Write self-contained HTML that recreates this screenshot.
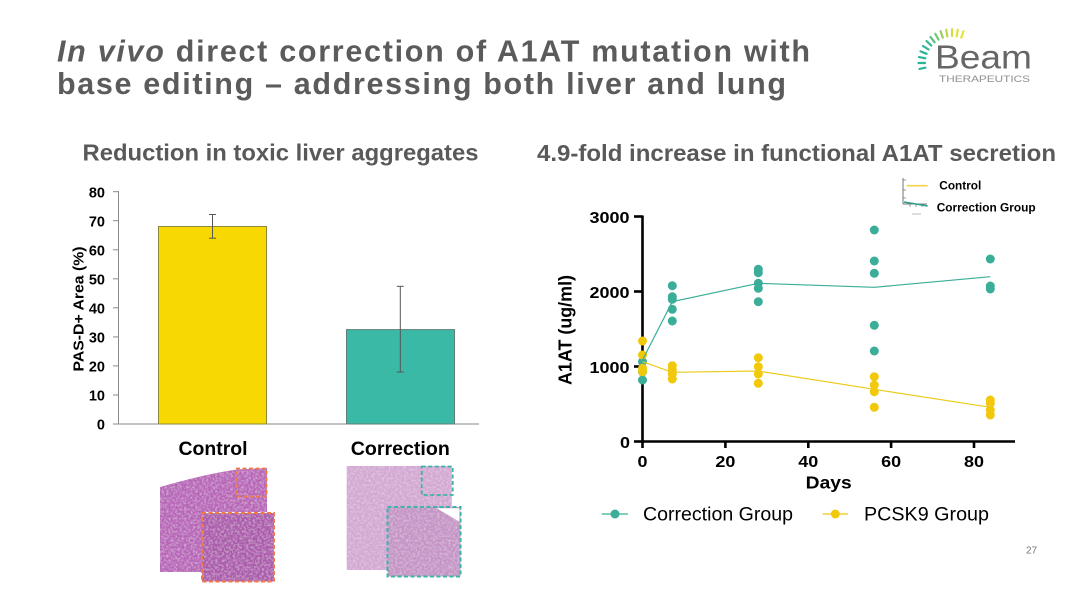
<!DOCTYPE html>
<html>
<head>
<meta charset="utf-8">
<style>
  html,body{margin:0;padding:0;background:#fff;}
  body{width:1088px;height:612px;overflow:hidden;position:relative;}
  svg{position:absolute;left:0;top:0;}
  text{font-family:"Liberation Sans", Arial, sans-serif;}
</style>
</head>
<body>
<svg width="1088" height="612" viewBox="0 0 1088 612" xmlns="http://www.w3.org/2000/svg">
  <rect width="1088" height="612" fill="#fff"/>

  <!-- Title -->
  <text x="57" y="61.5" font-size="30.5" font-weight="bold" fill="#5b5b5b" textLength="753" lengthAdjust="spacing"><tspan font-style="italic">In vivo</tspan> direct correction of A1AT mutation with</text>
  <text x="57" y="94" font-size="30.5" font-weight="bold" fill="#5b5b5b" textLength="729" lengthAdjust="spacing">base editing – addressing both liver and lung</text>

  <!-- Logo -->
  <g stroke-width="2.2" stroke-linecap="round">
    <line x1="925.4" y1="67.7" x2="919.5" y2="68.9" stroke="#2bb39a"/>
    <line x1="925" y1="63" x2="918.5" y2="63" stroke="#2bb39a"/>
    <line x1="925.4" y1="58.3" x2="919" y2="57.1" stroke="#2bb39a"/>
    <line x1="926.6" y1="53.8" x2="920.5" y2="51.4" stroke="#2bb39a"/>
    <line x1="928.6" y1="49.5" x2="923" y2="46" stroke="#30b596"/>
    <line x1="931.3" y1="45.6" x2="926.5" y2="41.1" stroke="#3db98f"/>
    <line x1="934.6" y1="42.3" x2="930.5" y2="37" stroke="#55bf85"/>
    <line x1="938.5" y1="39.6" x2="935.3" y2="33.8" stroke="#78c575"/>
    <line x1="942.8" y1="37.6" x2="940.6" y2="31.2" stroke="#9bcc60"/>
    <line x1="947.3" y1="36.4" x2="946.2" y2="29.7" stroke="#bcd64c"/>
    <line x1="952" y1="36" x2="952" y2="29.2" stroke="#d4dd40"/>
    <line x1="956.7" y1="36.4" x2="957.8" y2="29.7" stroke="#e2e23c"/>
    <line x1="961.2" y1="37.6" x2="963.4" y2="31.2" stroke="#e8e43a"/>
  </g>
  <text x="935" y="68.5" font-size="33" fill="#666" textLength="97" lengthAdjust="spacingAndGlyphs">Beam</text>
  <text x="939" y="82" font-size="9.5" fill="#8f8f8f" textLength="91" lengthAdjust="spacingAndGlyphs">THERAPEUTICS</text>

  <!-- Subtitles -->
  <text x="82.5" y="160.5" font-size="23" font-weight="bold" fill="#595959" textLength="396" lengthAdjust="spacingAndGlyphs">Reduction in toxic liver aggregates</text>
  <text x="537" y="161" font-size="23" font-weight="bold" fill="#595959" textLength="519" lengthAdjust="spacingAndGlyphs">4.9-fold increase in functional A1AT secretion</text>

  <!-- LEFT BAR CHART -->
  <g stroke="#8a8a8a" stroke-width="1">
    <line x1="118.5" y1="191" x2="118.5" y2="424.5"/>
    <line x1="113" y1="424" x2="479" y2="424"/>
    <line x1="113" y1="191.7" x2="118.5" y2="191.7"/>
    <line x1="113" y1="220.7" x2="118.5" y2="220.7"/>
    <line x1="113" y1="249.8" x2="118.5" y2="249.8"/>
    <line x1="113" y1="278.8" x2="118.5" y2="278.8"/>
    <line x1="113" y1="307.8" x2="118.5" y2="307.8"/>
    <line x1="113" y1="336.9" x2="118.5" y2="336.9"/>
    <line x1="113" y1="365.9" x2="118.5" y2="365.9"/>
    <line x1="113" y1="395" x2="118.5" y2="395"/>
  </g>
  <g font-size="14.5" font-weight="bold" fill="#000" text-anchor="end">
    <text x="105" y="197.3">80</text>
    <text x="105" y="226.3">70</text>
    <text x="105" y="255.4">60</text>
    <text x="105" y="284.4">50</text>
    <text x="105" y="313.4">40</text>
    <text x="105" y="342.5">30</text>
    <text x="105" y="371.5">20</text>
    <text x="105" y="400.6">10</text>
    <text x="105" y="429.6">0</text>
  </g>
  <text transform="translate(83.5,309) rotate(-90)" x="0" y="0" text-anchor="middle" font-size="15" font-weight="bold" fill="#000" textLength="125" lengthAdjust="spacingAndGlyphs">PAS-D+ Area (%)</text>

  <rect x="158.5" y="226.5" width="108" height="197.5" fill="#f7d800" stroke="#8c8a3a" stroke-width="1"/>
  <rect x="346.5" y="329.6" width="108" height="94.4" fill="#3bb9a7" stroke="#5e7f78" stroke-width="1"/>

  <g stroke="#555" stroke-width="1">
    <line x1="212.5" y1="214.5" x2="212.5" y2="238.2"/>
    <line x1="209" y1="214.5" x2="216" y2="214.5"/>
    <line x1="209" y1="238.2" x2="216" y2="238.2"/>
    <line x1="400.3" y1="286.3" x2="400.3" y2="372"/>
    <line x1="396.8" y1="286.3" x2="403.8" y2="286.3"/>
    <line x1="396.8" y1="372" x2="403.8" y2="372"/>
  </g>

  <text x="213" y="455" text-anchor="middle" font-size="19" font-weight="bold" fill="#000" textLength="69" lengthAdjust="spacingAndGlyphs">Control</text>
  <text x="400.3" y="455" text-anchor="middle" font-size="19" font-weight="bold" fill="#000" textLength="99" lengthAdjust="spacingAndGlyphs">Correction</text>

  <!-- Histology -->
  <defs>
    <filter id="tex" x="0" y="0" width="100%" height="100%">
      <feTurbulence type="fractalNoise" baseFrequency="0.45" numOctaves="2" seed="3" result="n"/>
      <feColorMatrix in="n" type="matrix" values="0 0 0 0 1  0 0 0 0 1  0 0 0 0 1  0 0 0 -1.6 0.95" result="w"/>
      <feComposite in="w" in2="SourceGraphic" operator="in" result="wm"/>
      <feComponentTransfer in="wm" result="wm2"><feFuncA type="linear" slope="0.45"/></feComponentTransfer>
      <feMerge><feMergeNode in="SourceGraphic"/><feMergeNode in="wm2"/></feMerge>
    </filter>
  </defs>
  <path d="M160,487 Q205,474 237,469.5 L267,468 L267,512 L202,512 L202,572 L160,572 Z" fill="#b865b8" filter="url(#tex)"/>
  <rect x="202" y="513" width="72" height="68.5" fill="#ac5aac" filter="url(#tex)"/>
  <rect x="236" y="468.5" width="30.5" height="28" fill="none" stroke="#f07a45" stroke-width="1.8" stroke-dasharray="4 2.5"/>
  <rect x="202" y="513" width="72" height="68.5" fill="none" stroke="#f07a45" stroke-width="2" stroke-dasharray="4 2.5"/>

  <rect x="346.7" y="466" width="105" height="104" fill="#d3a8d3" filter="url(#tex)"/>
  <rect x="387.5" y="507" width="73" height="69.5" fill="#c594c5" filter="url(#tex)"/>
  <path d="M436.7,508.3 L459.5,508.3 L459.5,521.7 Z" fill="#fff"/>
  <rect x="421.7" y="466.5" width="31" height="28.5" fill="none" stroke="#3bb5a5" stroke-width="1.8" stroke-dasharray="4 2.5"/>
  <rect x="387.5" y="507" width="73" height="69.5" fill="none" stroke="#3bb5a5" stroke-width="2" stroke-dasharray="4 2.5"/>

  <!-- RIGHT SCATTER CHART -->
  <g stroke="#000" stroke-width="2.6" fill="none">
    <line x1="642.5" y1="215.5" x2="642.5" y2="442.8"/>
    <line x1="641.2" y1="441.5" x2="1015" y2="441.5"/>
    <line x1="634" y1="216.5" x2="642.5" y2="216.5"/>
    <line x1="634" y1="291.5" x2="642.5" y2="291.5"/>
    <line x1="634" y1="366.5" x2="642.5" y2="366.5"/>
    <line x1="634" y1="441.5" x2="642.5" y2="441.5"/>
    <line x1="642.5" y1="441.5" x2="642.5" y2="448"/>
    <line x1="725.4" y1="441.5" x2="725.4" y2="448"/>
    <line x1="808.3" y1="441.5" x2="808.3" y2="448"/>
    <line x1="891.1" y1="441.5" x2="891.1" y2="448"/>
    <line x1="974" y1="441.5" x2="974" y2="448"/>
  </g>
  <g font-size="15.5" font-weight="bold" fill="#000">
    <text x="589.5" y="222.8" textLength="40" lengthAdjust="spacingAndGlyphs">3000</text>
    <text x="589.5" y="297.8" textLength="40" lengthAdjust="spacingAndGlyphs">2000</text>
    <text x="589.5" y="372.8" textLength="40" lengthAdjust="spacingAndGlyphs">1000</text>
    <text x="620" y="447.8" textLength="10" lengthAdjust="spacingAndGlyphs">0</text>
    <text x="637.5" y="467" textLength="10" lengthAdjust="spacingAndGlyphs">0</text>
    <text x="715.4" y="467" textLength="20" lengthAdjust="spacingAndGlyphs">20</text>
    <text x="798.3" y="467" textLength="20" lengthAdjust="spacingAndGlyphs">40</text>
    <text x="881.1" y="467" textLength="20" lengthAdjust="spacingAndGlyphs">60</text>
    <text x="964" y="467" textLength="20" lengthAdjust="spacingAndGlyphs">80</text>
  </g>
  <text x="805.7" y="488.5" font-size="17.5" font-weight="bold" fill="#000" textLength="46" lengthAdjust="spacingAndGlyphs">Days</text>
  <text transform="translate(571.5,330) rotate(-90)" x="0" y="0" text-anchor="middle" font-size="18" font-weight="bold" fill="#000" textLength="110" lengthAdjust="spacingAndGlyphs">A1AT (ug/ml)</text>

  <!-- teal dots -->
  <g fill="#3aae98">
    <circle cx="642.5" cy="361.7" r="4.5"/>
    <circle cx="642.5" cy="372" r="4.5"/>
    <circle cx="642.5" cy="380" r="4.5"/>
    <circle cx="672.3" cy="285.7" r="4.5"/>
    <circle cx="672.3" cy="296.7" r="4.5"/>
    <circle cx="672.3" cy="299.3" r="4.5"/>
    <circle cx="672.3" cy="309.3" r="4.5"/>
    <circle cx="672.3" cy="321" r="4.5"/>
    <circle cx="758.3" cy="269.3" r="4.5"/>
    <circle cx="758.3" cy="272.7" r="4.5"/>
    <circle cx="758.3" cy="283.3" r="4.5"/>
    <circle cx="758.3" cy="288.3" r="4.5"/>
    <circle cx="758.3" cy="301.7" r="4.5"/>
    <circle cx="874.3" cy="230" r="4.5"/>
    <circle cx="874.3" cy="261" r="4.5"/>
    <circle cx="874.3" cy="273.3" r="4.5"/>
    <circle cx="874.3" cy="325.3" r="4.5"/>
    <circle cx="874.3" cy="351" r="4.5"/>
    <circle cx="990.3" cy="259" r="4.5"/>
    <circle cx="990.3" cy="286" r="4.5"/>
    <circle cx="990.3" cy="289" r="4.5"/>
  </g>
  <!-- yellow dots -->
  <g fill="#f2c80a">
    <circle cx="642.5" cy="341" r="4.5"/>
    <circle cx="642.5" cy="355" r="4.5"/>
    <circle cx="642.5" cy="368.3" r="4.5"/>
    <circle cx="642.5" cy="371.7" r="4.5"/>
    <circle cx="672.3" cy="365.7" r="4.5"/>
    <circle cx="672.3" cy="370" r="4.5"/>
    <circle cx="672.3" cy="374" r="4.5"/>
    <circle cx="672.3" cy="379" r="4.5"/>
    <circle cx="758.3" cy="357.7" r="4.5"/>
    <circle cx="758.3" cy="366.7" r="4.5"/>
    <circle cx="758.3" cy="374" r="4.5"/>
    <circle cx="758.3" cy="383.3" r="4.5"/>
    <circle cx="874.3" cy="376.7" r="4.5"/>
    <circle cx="874.3" cy="385" r="4.5"/>
    <circle cx="874.3" cy="391.7" r="4.5"/>
    <circle cx="874.3" cy="407.3" r="4.5"/>
    <circle cx="990.3" cy="400" r="4.5"/>
    <circle cx="990.3" cy="403.3" r="4.5"/>
    <circle cx="990.3" cy="410" r="4.5"/>
    <circle cx="990.3" cy="415" r="4.5"/>
  </g>
  <polyline points="642.5,360 672.3,301.7 758.3,283.3 874.3,287.3 990.3,276.7" fill="none" stroke="#3aae98" stroke-width="1.2"/>
  <polyline points="642.5,361.7 672.3,372.3 758.3,371 874.3,389.3 990.3,407.3" fill="none" stroke="#eccb1e" stroke-width="1.2"/>

  <!-- mini legend top right -->
  <g stroke-width="1">
    <line x1="903" y1="178" x2="903" y2="204" stroke="#777"/>
    <line x1="903" y1="204" x2="927" y2="204" stroke="#777"/>
    <line x1="903.5" y1="180" x2="906" y2="180" stroke="#999"/>
    <line x1="903.5" y1="190" x2="906" y2="190" stroke="#999"/>
    <line x1="903.5" y1="198" x2="906" y2="198" stroke="#999"/>
    <line x1="910" y1="204" x2="910" y2="207" stroke="#999"/>
    <line x1="916" y1="204" x2="916" y2="207" stroke="#999"/>
    <line x1="922" y1="204" x2="922" y2="207" stroke="#999"/>
    <line x1="912" y1="214" x2="921" y2="214" stroke="#bbb"/>
    <line x1="906.7" y1="185.7" x2="927.7" y2="185.7" stroke="#f0d44a" stroke-width="1.6"/>
    <line x1="904" y1="202" x2="927.7" y2="206" stroke="#2a9e8c" stroke-width="1.6"/>
  </g>
  <text x="939.3" y="189.5" font-size="12" font-weight="bold" fill="#000" textLength="42" lengthAdjust="spacingAndGlyphs">Control</text>
  <text x="936.7" y="211.7" font-size="12" font-weight="bold" fill="#000" textLength="99" lengthAdjust="spacingAndGlyphs">Correction Group</text>

  <!-- bottom legend -->
  <line x1="601.7" y1="514" x2="628" y2="514" stroke="#3aae98" stroke-width="1.3"/>
  <circle cx="615" cy="514" r="4.5" fill="#3aae98"/>
  <text x="643" y="520.7" font-size="19" fill="#000" textLength="150" lengthAdjust="spacingAndGlyphs">Correction Group</text>
  <line x1="822.7" y1="514" x2="848" y2="514" stroke="#f2c80a" stroke-width="1.3"/>
  <circle cx="835.3" cy="514" r="4.5" fill="#f2c80a"/>
  <text x="864" y="520.7" font-size="19" fill="#000" textLength="125" lengthAdjust="spacingAndGlyphs">PCSK9 Group</text>

  <!-- page number -->
  <text x="1026" y="553.3" font-size="10" fill="#777">27</text>
</svg>
</body>
</html>
